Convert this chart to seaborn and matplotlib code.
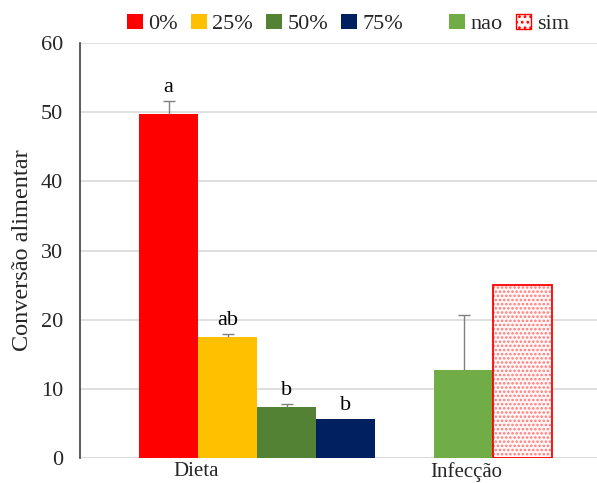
import matplotlib
matplotlib.use("Agg")
import matplotlib.pyplot as plt
import seaborn as sns
import pandas as pd
from matplotlib.patches import Patch, Rectangle

# Feed conversion by diet level and by infection status
levels = ["0%", "25%", "50%", "75%", "nao", "sim"]
values = [49.7, 17.5, 7.4, 5.6, 12.7, 25.0]
errors = [1.9, 0.4, 0.4, 0.0, 8.0, 0.0]
letters = ["a", "ab", "b", "b", "", ""]
groups = ["Dieta", "Infecção"]

colors = {"0%": "#ff0000", "25%": "#ffc000", "50%": "#548235",
          "75%": "#002060", "nao": "#70ad47", "sim": "#ffffff"}

sns.set_theme(style="white")
plt.rcParams["font.family"] = ["Liberation Serif", "DejaVu Serif"]
plt.rcParams["hatch.linewidth"] = 1.2

# bar slots: four diet bars, then an empty gap, then the two infection bars
slots = [1.5, 2.5, 3.5, 4.5, 6.5, 7.5]
df = pd.DataFrame({"pos": slots, "valor": values, "nivel": levels})

fig = plt.figure(figsize=(5.97, 4.83), dpi=100)
ax = fig.add_axes([80 / 597, 1 - 458 / 483, 1 - 80 / 597, (458 - 43) / 483])

sns.barplot(data=df, x="pos", y="valor", hue="nivel", palette=colors,
            hue_order=levels, native_scale=True, dodge=False, width=1.0,
            errorbar=None, legend=False, ax=ax, linewidth=0, saturation=1)

# dotted fill for "sim" with a solid red outline on top
for p in list(ax.patches):
    if abs(p.get_x() + p.get_width() / 2 - slots[5]) < 1e-6:
        p.set_facecolor("#fff6f6")
        p.set_edgecolor("#ff7a7a")
        p.set_linewidth(0)
        p.set_hatch("....")
        ax.add_patch(Rectangle(p.get_xy(), p.get_width(), p.get_height(),
                               fill=False, edgecolor="#ff0000", linewidth=1.3, zorder=3))

for x, v, e in zip(slots, values, errors):
    if e > 0:
        ax.errorbar(x, v, yerr=[[0], [e]], fmt="none", ecolor="#808080",
                    elinewidth=1.0, capsize=0, zorder=3)
        ax.plot([x], [v + e], marker="_", markersize=8, markeredgewidth=1.0,
                color="#808080", zorder=3)

for x, v, e, t in zip(slots, values, errors, letters):
    if t:
        ax.annotate(t, (x, v + e), xytext=(0, 3), textcoords="offset points",
                    ha="center", va="bottom", fontsize=16, color="black")

ax.set_xlim(0, 8.76)
ax.set_ylim(0, 60)
ax.set_yticks(range(0, 61, 10))
ax.set_xticks([1.97, 6.54])
ax.set_xticklabels(groups)
ax.set_xlabel("")
ax.set_ylabel("Conversão alimentar", fontsize=17.5, labelpad=6)
ax.tick_params(axis="y", labelsize=16, length=0, pad=12)
ax.tick_params(axis="x", labelsize=15, length=0, pad=3)
ax.yaxis.grid(True, color="#d9d9d9", linewidth=1.2)
ax.set_axisbelow(True)
for s in ["top", "right", "bottom"]:
    ax.spines[s].set_visible(False)
ax.spines["left"].set_color("#404040")
ax.spines["left"].set_linewidth(1.2)
ax.axhline(0, color="#d9d9d9", linewidth=1.2, zorder=0)

diet_handles = [Patch(facecolor=colors[l], edgecolor="none", label=l) for l in levels[:4]]
inf_handles = [Patch(facecolor=colors["nao"], edgecolor="none", label="nao"),
               Patch(facecolor="#fff6f6", edgecolor="#ff0000", hatch="...", label="sim")]
common = dict(ncol=4, frameon=False, fontsize=16, handlelength=0.7, handleheight=0.7,
              handletextpad=0.25, columnspacing=0.6, borderaxespad=0, borderpad=0)
fig.legend(handles=diet_handles, loc="center left",
           bbox_to_anchor=(127 / 597, 1 - 24 / 483), **common)
fig.legend(handles=inf_handles, loc="center left",
           bbox_to_anchor=(449 / 597, 1 - 24 / 483), **common)

fig.savefig("out.png", dpi=100)
